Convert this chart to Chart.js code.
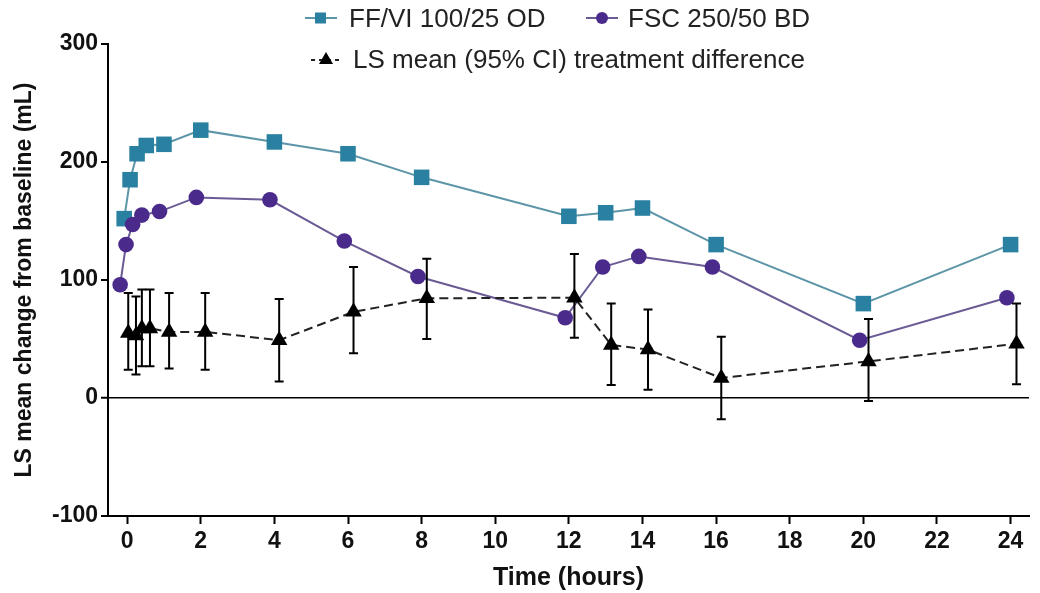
<!DOCTYPE html>
<html>
<head>
<meta charset="utf-8">
<script src="https://cdn.jsdelivr.net/npm/chart.js@4.4.1/dist/chart.umd.min.js"></script>
<style>
  html, body { margin: 0; padding: 0; background: #fff; }
  #wrap { position: relative; width: 1040px; height: 593px; }
  canvas { position: absolute; left: 0; top: 0; }
  .lg { position: absolute; font-family: 'Liberation Sans', Arial, sans-serif; font-size: 26px; line-height: 30px; color: #222; white-space: nowrap; }
  .mk { position: absolute; }
</style>
</head>
<body>
<div id="wrap">
  <canvas id="c" width="1040" height="593"></canvas>
  <svg class="mk" style="left:305px;top:8px" width="32" height="20">
    <line x1="0" y1="10" x2="32" y2="10" stroke="#5d95a8" stroke-width="2"/>
    <rect x="10" y="4.5" width="11" height="11" fill="#2a80a0"/>
  </svg>
  <div class="lg" style="left:349px;top:3px">FF/VI 100/25 OD</div>
  <svg class="mk" style="left:586px;top:8px" width="32" height="20">
    <line x1="0" y1="10" x2="32" y2="10" stroke="#6b5b95" stroke-width="2"/>
    <circle cx="16" cy="10" r="6" fill="#4a2b8b"/>
  </svg>
  <div class="lg" style="left:628px;top:3px">FSC 250/50 BD</div>
  <svg class="mk" style="left:310px;top:49px" width="32" height="20">
    <line x1="1" y1="11" x2="31" y2="11" stroke="#222" stroke-width="2" stroke-dasharray="4,4"/>
    <polygon points="16,3 23,15 9,15" fill="#000"/>
  </svg>
  <div class="lg" style="left:353px;top:44px">LS mean (95% CI) treatment difference</div>
</div>
<script>
// ---- data ----
const fvLabel = 'FF/VI 100/25 OD';
const fscLabel = 'FSC 250/50 BD';
const diffLabel = 'LS mean (95% CI) treatment difference';

const fvTimes   = [-0.08, 0.08, 0.27, 0.52, 1.0, 2.0, 4.0, 6.0, 8.0, 12.0, 13.0, 14.0, 16.0, 20.0, 24.0];
const fvValues  = [152, 185, 207, 214, 215, 227, 217, 207, 187, 154, 157, 161, 130, 80, 130];

const fscTimes  = [-0.19, -0.03, 0.15, 0.4, 0.88, 1.88, 3.88, 5.9, 7.9, 11.9, 12.92, 13.9, 15.9, 19.9, 23.9];
const fscValues = [96, 130, 147, 155, 158, 170, 168, 133, 103, 68, 111, 120, 111, 49, 85];

const diffTimes  = [0.03, 0.24, 0.4, 0.62, 1.14, 2.12, 4.13, 6.15, 8.14, 12.15, 13.15, 14.15, 16.14, 20.14, 24.16];
const diffValues = [55, 53, 59, 59, 56, 56, 49, 73, 84.5, 85, 45, 41, 17, 31, 46];
const diffLow    = [24, 20, 27, 27, 25, 24, 14, 38, 50, 51, 11, 7, -18, -2.5, 11.6];
const diffHigh   = [89, 86, 92, 92, 89, 89, 84, 111, 118, 122, 80, 75, 52, 67, 80];

const xTicks = [0, 2, 4, 6, 8, 10, 12, 14, 16, 18, 20, 22, 24];
const yTicks = [-100, 0, 100, 200, 300];

const pts = (xs, ys) => xs.map((x, i) => ({ x: x, y: ys[i] }));

const errorBars = {
  id: 'errorBars',
  afterDatasetsDraw(chart) {
    const ctx = chart.ctx, xs = chart.scales.x, ys = chart.scales.y;
    ctx.save();
    ctx.strokeStyle = '#000';
    ctx.lineWidth = 2;
    const cap = 4.5;
    diffTimes.forEach((t, i) => {
      const px = xs.getPixelForValue(t);
      const lo = ys.getPixelForValue(diffLow[i]);
      const hi = ys.getPixelForValue(diffHigh[i]);
      ctx.beginPath();
      ctx.moveTo(px, lo); ctx.lineTo(px, hi);
      ctx.moveTo(px - cap, lo); ctx.lineTo(px + cap, lo);
      ctx.moveTo(px - cap, hi); ctx.lineTo(px + cap, hi);
      ctx.stroke();
    });
    ctx.restore();
  }
};

const FONT = "'Liberation Sans', Arial, sans-serif";

new Chart(document.getElementById('c'), {
  type: 'line',
  data: {
    datasets: [
      {
        label: diffLabel,
        data: pts(diffTimes, diffValues),
        borderColor: '#222',
        borderWidth: 2,
        borderDash: [9, 5],
        pointStyle: 'triangle',
        pointRadius: 9.5,
        pointBackgroundColor: '#000',
        pointBorderColor: '#000',
        pointBorderWidth: 0,
        tension: 0
      },
      {
        label: fscLabel,
        data: pts(fscTimes, fscValues),
        borderColor: '#6b5b95',
        borderWidth: 2,
        pointStyle: 'circle',
        pointRadius: 7.8,
        pointBackgroundColor: '#4a2b8b',
        pointBorderColor: '#4a2b8b',
        pointBorderWidth: 0,
        tension: 0
      },
      {
        label: fvLabel,
        data: pts(fvTimes, fvValues),
        borderColor: '#5d95a8',
        borderWidth: 2,
        pointStyle: 'rect',
        pointRadius: 11,
        pointBackgroundColor: '#2a80a0',
        pointBorderColor: '#2a80a0',
        pointBorderWidth: 0,
        tension: 0
      }
    ]
  },
  options: {
    responsive: false,
    animation: false,
    events: [],
    layout: { padding: { left: 0, top: 44, right: 11, bottom: 0 } },
    plugins: { legend: { display: false }, tooltip: { enabled: false } },
    scales: {
      x: {
        type: 'linear',
        min: -0.52,
        max: 24.5,
        afterBuildTicks: (s) => { s.ticks = xTicks.map(v => ({ value: v })); },
        afterFit: (s) => { s.height = 77; },
        border: { display: true, color: '#000', width: 2 },
        grid: { display: true, drawOnChartArea: false, tickLength: 8, tickColor: '#000', tickWidth: 2 },
        ticks: { color: '#111', padding: 4, maxRotation: 0, autoSkip: false, font: { family: FONT, size: 23, weight: 'bold' } },
        title: { display: true, text: 'Time (hours)', color: '#111', padding: { top: 0, bottom: 0 }, font: { family: FONT, size: 25, weight: 'bold' } }
      },
      y: {
        type: 'linear',
        min: -100,
        max: 300,
        afterBuildTicks: (s) => { s.ticks = yTicks.map(v => ({ value: v })); },
        afterFit: (s) => { s.width = 108; },
        border: { display: true, color: '#000', width: 2 },
        grid: {
          display: true,
          drawOnChartArea: true,
          color: (c) => (c.tick && c.tick.value === 0 ? '#000' : 'rgba(0,0,0,0)'),
          lineWidth: (c) => (c.tick && c.tick.value === 0 ? 1.5 : 0),
          tickLength: 7,
          tickColor: '#000',
          tickWidth: 2
        },
        ticks: { color: '#111', padding: 3, font: { family: FONT, size: 23, weight: 'bold' } },
        title: { display: true, text: 'LS mean change from baseline (mL)', color: '#111', padding: { top: 11, bottom: 0 }, font: { family: FONT, size: 23, weight: 'bold' } }
      }
    }
  },
  plugins: [errorBars]
});
</script>
</body>
</html>
